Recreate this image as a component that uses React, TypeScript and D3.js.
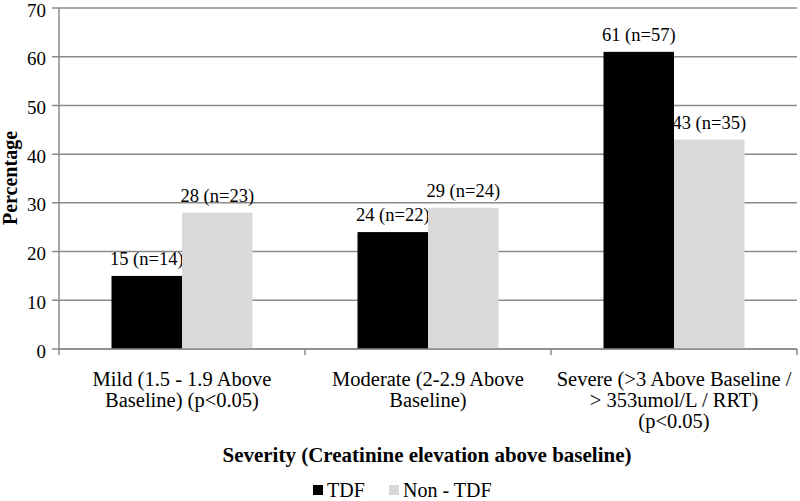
import React from "react";
import * as d3 from "d3";

const categories: string[][] = [
  ["Mild (1.5 - 1.9 Above", "Baseline) (p<0.05)"],
  ["Moderate (2-2.9 Above", "Baseline)"],
  ["Severe (>3 Above Baseline /", "> 353umol/L / RRT)", "(p<0.05)"],
];
const seriesNames = ["TDF", "Non - TDF"];
const tdfValues = [15, 24, 61];
const tdfN = [14, 22, 57];
const nonTdfValues = [28, 29, 43];
const nonTdfN = [23, 24, 35];
const yTicks = [0, 10, 20, 30, 40, 50, 60, 70];

const colors = ["#000000", "#d9d9d9"];
const FONT = "'Liberation Serif', 'Times New Roman', serif";

export default function App() {
  const width = 800;
  const height = 501;
  const left = 59;
  const right = 797;
  const top = 8;
  const bottom = 349;

  const x = d3.scaleBand<number>().domain([0, 1, 2]).range([left, right]).padding(0);
  const y = d3.scaleLinear().domain([0, 70]).range([bottom, top]);
  const bw = x.bandwidth();
  const barW = bw * 0.2866;
  const groupOffset = (bw - 2 * barW) / 2;

  const series = [
    { vals: tdfValues, ns: tdfN },
    { vals: nonTdfValues, ns: nonTdfN },
  ];

  return (
    <svg width={width} height={height} style={{ position: "absolute", left: 0, top: 0 }} fontFamily={FONT}>
      <rect x={0} y={0} width={width} height={height} fill="#fff" />
      {yTicks.map((t) => (
        <g key={t}>
          <line x1={left - 7} x2={right} y1={y(t)} y2={y(t)} stroke="#8a8a8a" strokeWidth={1.5} />
          <text x={left - 13} y={y(t)} dy="0.45em" textAnchor="end" fontSize={19} fill="#000">
            {t}
          </text>
        </g>
      ))}
      {series.map((s, si) =>
        s.vals.map((v, ci) => {
          const bx = (x(ci) as number) + groupOffset + si * barW;
          return (
            <g key={`${si}-${ci}`}>
              <rect x={bx} y={y(v)} width={barW} height={bottom - y(v)} fill={colors[si]} />
              <text x={bx + barW / 2} y={y(v) - 11} textAnchor="middle" fontSize={18.5} fill="#000">
                {`${v} (n=${s.ns[ci]})`}
              </text>
            </g>
          );
        })
      )}
      <line x1={left} x2={left} y1={top} y2={bottom} stroke="#8a8a8a" strokeWidth={1.5} />
      <line x1={left} x2={right} y1={bottom} y2={bottom} stroke="#8a8a8a" strokeWidth={1.5} />
      {[0, 1, 2, 3].map((i) => {
        const tx = i < 3 ? (x(i) as number) : right;
        return <line key={i} x1={tx} x2={tx} y1={bottom} y2={bottom + 6} stroke="#8a8a8a" strokeWidth={1.5} />;
      })}
      {categories.map((lines, ci) => (
        <text key={ci} textAnchor="middle" fontSize={20.5} fill="#000">
          {lines.map((ln, li) => (
            <tspan key={li} x={(x(ci) as number) + bw / 2} y={386 + li * 21}>
              {ln}
            </tspan>
          ))}
        </text>
      ))}
      <text x={427} y={462} textAnchor="middle" fontSize={21} fontWeight="bold" fill="#000">
        Severity (Creatinine elevation above baseline)
      </text>
      <text
        transform={`translate(17, 178) rotate(-90)`}
        textAnchor="middle"
        fontSize={20}
        fontWeight="bold"
        fill="#000"
      >
        Percentage
      </text>
      {seriesNames.map((n, i) => {
        const lx = i === 0 ? 313 : 389;
        return (
          <g key={n}>
            <rect x={lx} y={485} width={10} height={10} fill={colors[i]} />
            <text x={lx + 14} y={497} fontSize={20} fill="#000">
              {n}
            </text>
          </g>
        );
      })}
    </svg>
  );
}
